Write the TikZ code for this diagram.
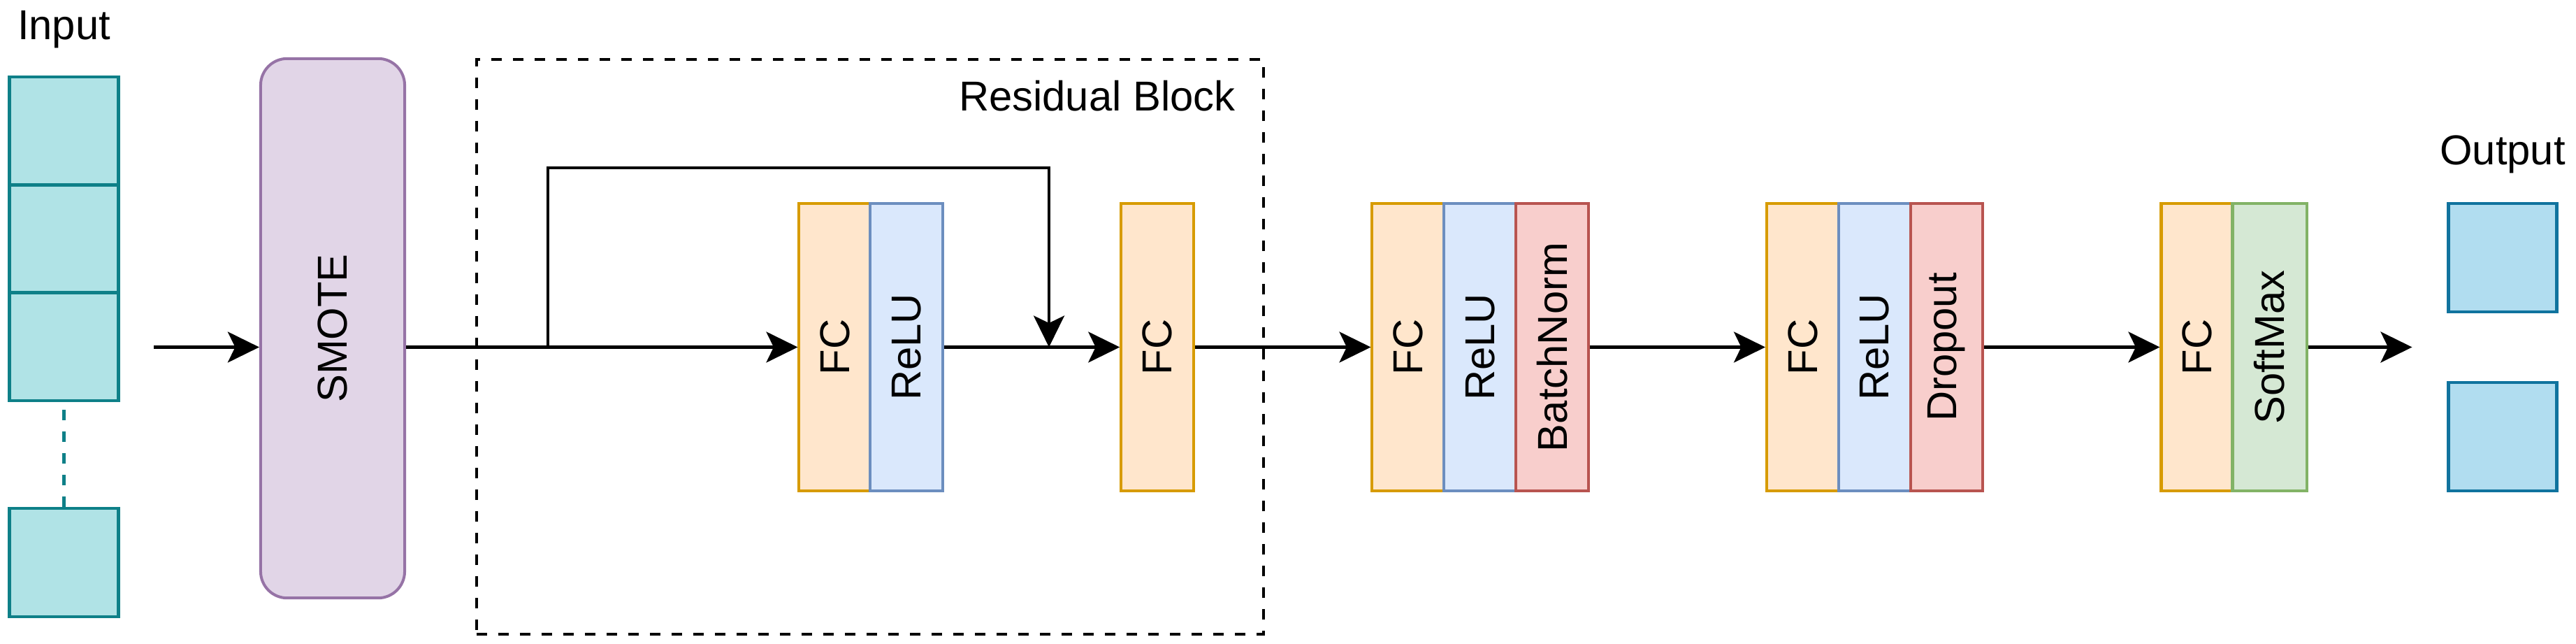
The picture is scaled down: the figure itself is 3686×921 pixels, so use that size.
\documentclass[tikz,border=0pt]{standalone}
\usepackage{fontspec}
\setmainfont{Liberation Sans}
\usetikzlibrary{arrows.meta}
\definecolor{inputfill}{HTML}{B0E3E6}
\definecolor{inputdraw}{HTML}{0E8088}
\definecolor{smotefill}{HTML}{E1D5E7}
\definecolor{smotedraw}{HTML}{9673A6}
\definecolor{fcfill}{HTML}{FFE6CC}
\definecolor{fcdraw}{HTML}{D79B00}
\definecolor{relufill}{HTML}{DAE8FC}
\definecolor{reludraw}{HTML}{6C8EBF}
\definecolor{redfill}{HTML}{F8CECC}
\definecolor{reddraw}{HTML}{B85450}
\definecolor{greenfill}{HTML}{D5E8D4}
\definecolor{greendraw}{HTML}{82B366}
\definecolor{outfill}{HTML}{B1DDF0}
\definecolor{outdraw}{HTML}{10739E}
\begin{document}
\begin{tikzpicture}[x=0.01cm, y=-0.01cm,
  lbl/.style={font=\fontsize{17}{20}\selectfont, text=black},
  blk/.style={draw, line width=1.14pt, inner sep=0pt, minimum height=4.11cm, lbl},
  fcb/.style={blk, fill=fcfill, draw=fcdraw},
  relub/.style={blk, fill=relufill, draw=reludraw},
  redb/.style={blk, fill=redfill, draw=reddraw},
  greenb/.style={blk, fill=greenfill, draw=greendraw},
  inb/.style={draw=inputdraw, fill=inputfill, line width=1.3pt, inner sep=0pt, minimum width=1.56cm, minimum height=1.543cm},
  outb/.style={draw=outdraw, fill=outfill, line width=1.2pt, inner sep=0pt, minimum width=1.55cm, minimum height=1.55cm},
  conn/.style={line width=1.14pt, -{Stealth[length=12.8pt,width=12.5pt,inset=3pt]}}
]
\useasboundingbox (0,0) rectangle (3686,921);

% titles
\node[lbl, anchor=base] (intitle) at (91.5,56) {Input};
\node[lbl, anchor=base] (outtitle) at (3581,235) {Output};

% input vector
\node[inb] (in1) at (91.5,187.2) {};
\node[inb] (in2) at (91.5,341.5) {};
\node[inb] (in3) at (91.5,495.8) {};
\node[inb, minimum height=1.55cm] (in4) at (91.5,804.5) {};
\draw[inputdraw, line width=1.2pt, dash pattern=on 4.27pt off 4.55pt] (in4.north) -- (in3.south);

% SMOTE
\node[draw=smotedraw, fill=smotefill, line width=1.14pt, rounded corners=0.38cm,
      minimum width=2.06cm, minimum height=7.71cm, inner sep=0pt, lbl] (smote) at (476,469.5) {\rotatebox{90}{SMOTE}};

% residual block frame
\node[draw, line width=1.14pt, dash pattern=on 4.27pt off 4.55pt, inner sep=0pt,
      minimum width=11.26cm, minimum height=8.22cm] (resblock) at (1245,496) {};
\node[lbl, anchor=base east] (rbtitle) at (1780,158) {Residual Block};

% layers
\node[fcb, minimum width=1.02cm] (fc1) at (1194.5,496.5) {\rotatebox{90}{FC}};
\node[relub, minimum width=1.03cm] (relu1) at (1297,496.5) {\rotatebox{90}{ReLU}};
\node[fcb, minimum width=1.035cm] (fc2) at (1656,496.5) {\rotatebox{90}{FC}};

\node[fcb, minimum width=1.03cm] (fc3) at (2015,496.5) {\rotatebox{90}{FC}};
\node[relub, minimum width=1.03cm] (relu3) at (2118,496.5) {\rotatebox{90}{ReLU}};
\node[redb, minimum width=1.03cm] (bn) at (2221,496.5) {\rotatebox{90}{BatchNorm}};

\node[fcb, minimum width=1.03cm] (fc4) at (2579.5,496.5) {\rotatebox{90}{FC}};
\node[relub, minimum width=1.03cm] (relu4) at (2682.5,496.5) {\rotatebox{90}{ReLU}};
\node[redb, minimum width=1.03cm] (drop) at (2785.5,496.5) {\rotatebox{90}{Dropout}};

\node[fcb, minimum width=1.02cm] (fc5) at (3143.5,496.5) {\rotatebox{90}{FC}};
\node[greenb, minimum width=1.06cm] (soft) at (3247.5,496.5) {\rotatebox{90}{SoftMax}};

% outputs
\node[outb] (out1) at (3581,368.5) {};
\node[outb] (out2) at (3581,624.5) {};

% connectors
\coordinate (inarrow) at (220,496.5);
\draw[conn] (inarrow) -- (inarrow -| smote.west);
\draw[conn] (smote.east |- fc1.west) -- (fc1.west);
\coordinate (skipA) at (784,496.5);
\coordinate (skipB) at (1501,496.5);
\draw[conn] (skipA) -- ++(0,-256.5) -| (skipB);
\draw[conn] (relu1.east) -- (fc2.west);
\draw[conn] (fc2.east) -- (fc3.west);
\draw[conn] (bn.east) -- (fc4.west);
\draw[conn] (drop.east) -- (fc5.west);
\coordinate (outarrow) at (3451.5,496.5);
\draw[conn] (soft.east) -- (outarrow);
\end{tikzpicture}
\end{document}
